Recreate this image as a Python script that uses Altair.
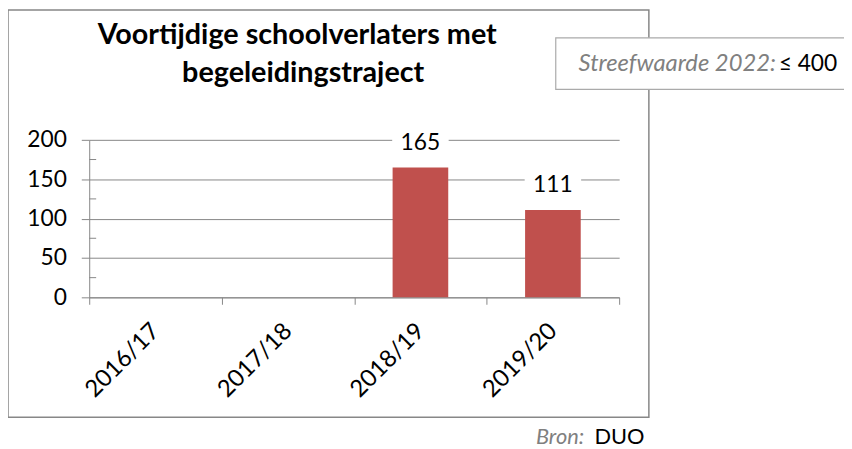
import altair as alt
import pandas as pd

categories = ["2016/17", "2017/18", "2018/19", "2019/20"]
values = [None, None, 165, 111]
y_ticks = [0, 50, 100, 150, 200]
minor_ticks = [25, 75, 125, 175]
title_lines = ["Voortijdige schoolverlaters met", "begeleidingstraject"]
target_label = "Streefwaarde 2022:"
target_value = "≤ 400"
source_label = "Bron:"
source_value = "DUO"

FONT = "Lato"
GRAY = "#878787"
BAR = "#C0504D"

df = pd.DataFrame({"cat": categories, "v": values})
df_bars = df.dropna()
one = alt.Data(values=[{"a": 1}])

x_scale = alt.Scale(domain=categories, paddingInner=0, paddingOuter=0)
x_axis = alt.Axis(tickBand="extent", labelAngle=315, labelAlign="right",
                  labelBaseline="middle", labelFontSize=24, labelFont=FONT,
                  labelColor="black", labelPadding=23, tickSize=7,
                  tickColor=GRAY, domainColor=GRAY, grid=False, title=None)
y_scale = alt.Scale(domain=[0, 200], nice=False)
y_axis = alt.Axis(values=y_ticks, labelFontSize=23, labelFont=FONT,
                  labelColor="black", labelPadding=15, tickSize=8,
                  labelOverlap=False, labelBound=False, title=None,
                  tickColor=GRAY, domainColor=GRAY, gridColor=GRAY)

def xe():
    return alt.X("cat:N", sort=categories, scale=x_scale, axis=x_axis)

def ye(field="v"):
    return alt.Y(f"{field}:Q", scale=y_scale, axis=y_axis)

frame = alt.Chart(one).mark_rect(fill="white", fillOpacity=0, stroke=GRAY,
                                 strokeWidth=1.5).encode(
    x=alt.value(-82), x2=alt.value(565), y=alt.value(-131), y2=alt.value(280))

bars = alt.Chart(df_bars).mark_bar(color=BAR, width=alt.RelativeBandSize(0.42)).encode(
    x=xe(), y=ye())

label_bg = alt.Chart(df_bars).mark_tick(color="white", thickness=24, size=57,
                                        yOffset=-25, opacity=1).encode(
    x=xe(), y=ye())

labels = alt.Chart(df_bars).mark_text(dy=-25, fontSize=23, font=FONT, color="black",
                                      baseline="middle").encode(
    x=xe(), y=ye(), text=alt.Text("v:Q", format="d"))

df_minor = pd.DataFrame({"m": minor_ticks})
minor = alt.Chart(df_minor).mark_rule(color=GRAY, strokeWidth=1).encode(
    y=ye("m"), x=alt.value(0), x2=alt.value(7))

def txt(text, x, y, size, color="black", weight="normal", style="normal", align="left"):
    return alt.Chart(one).mark_text(text=text, fontSize=size, font=FONT, color=color,
                                    fontWeight=weight, fontStyle=style, align=align,
                                    baseline="middle").encode(
        x=alt.value(x), y=alt.value(y))

title1 = txt(title_lines[0], 210, -106, 29, weight="bold", align="center")
title2 = txt(title_lines[1], 216, -67, 29, weight="bold", align="center")

box = alt.Chart(one).mark_rect(fill="white", stroke="#AAAAAA", strokeWidth=1.2).encode(
    x=alt.value(471), x2=alt.value(780), y=alt.value(-103), y2=alt.value(-51))
box_t1 = txt(target_label, 494, -76, 24, color="#808080", style="italic")
box_t2 = txt(target_value, 696, -76, 23)

src1 = txt(source_label, 451, 300, 22, color="#808080", style="italic")
src2 = txt(source_value, 510, 300, 22)

chart = alt.layer(frame, bars, label_bg, labels, minor, title1, title2,
                  box, box_t1, box_t2, src1, src2).properties(
    width=535, height=159,
    autosize=alt.AutoSizeParams(type="none"),
    padding={"left": 82, "top": 131, "right": 227, "bottom": 150},
).configure_view(stroke=None).configure_axis(labelFont=FONT)

chart.save("out.html", embed_options={"renderer": "svg", "actions": False})
